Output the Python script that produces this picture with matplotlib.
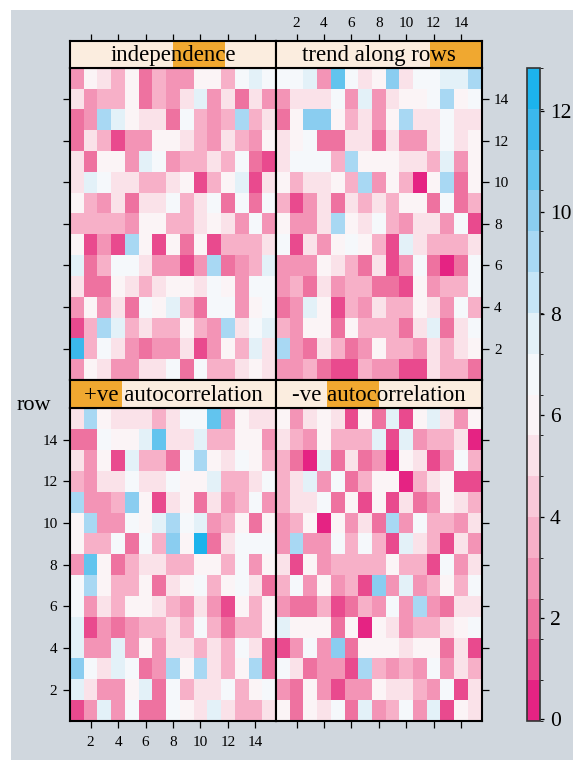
import numpy as np
import matplotlib.pyplot as plt
from matplotlib.colors import ListedColormap, BoundaryNorm
from matplotlib.patches import Rectangle
from matplotlib.cm import ScalarMappable

plt.rcParams['font.family'] = ['Liberation Serif', 'DejaVu Serif']

# cell values, rows listed from top (row 15) down to row 1
independence = [
    [2.8, 6.0, 5.2, 3.6, 6.0, 2.0, 3.6, 2.8, 2.8, 6.0, 6.0, 3.6, 6.8, 7.6, 6.8],
    [5.2, 2.8, 3.6, 3.6, 6.0, 2.0, 3.6, 2.8, 5.2, 7.6, 2.8, 5.2, 2.0, 5.2, 2.8],
    [2.0, 2.8, 9.2, 7.6, 6.0, 5.2, 5.2, 2.0, 6.8, 3.6, 2.8, 3.6, 9.2, 3.6, 5.2],
    [2.0, 5.2, 3.6, 1.2, 2.8, 2.8, 6.0, 6.0, 5.2, 3.6, 2.8, 5.2, 3.6, 2.8, 6.0],
    [5.2, 2.0, 6.0, 6.0, 2.8, 7.6, 6.8, 2.8, 3.6, 3.6, 5.2, 3.6, 6.8, 2.0, 1.2],
    [5.2, 7.6, 6.8, 5.2, 5.2, 3.6, 3.6, 5.2, 6.0, 1.2, 3.6, 6.0, 7.6, 1.2, 5.2],
    [6.0, 3.6, 2.8, 5.2, 2.0, 5.2, 5.2, 6.8, 3.6, 5.2, 6.8, 2.0, 6.8, 2.0, 6.8],
    [3.6, 3.6, 3.6, 3.6, 2.8, 6.0, 6.0, 3.6, 3.6, 5.2, 6.0, 5.2, 2.8, 6.8, 2.8],
    [6.0, 1.2, 2.8, 1.2, 9.2, 6.0, 1.2, 6.0, 2.0, 6.0, 1.2, 3.6, 3.6, 3.6, 5.2],
    [7.6, 2.0, 3.6, 6.8, 6.8, 5.2, 2.8, 2.8, 1.2, 2.8, 9.2, 2.0, 2.8, 3.6, 7.6],
    [5.2, 2.0, 2.0, 6.0, 5.2, 3.6, 5.2, 6.0, 6.0, 5.2, 6.8, 6.0, 2.8, 6.8, 6.8],
    [2.8, 6.0, 2.8, 5.2, 2.0, 6.8, 6.0, 7.6, 3.6, 2.0, 6.8, 6.8, 2.8, 6.0, 6.8],
    [1.2, 3.6, 9.2, 7.6, 3.6, 5.2, 3.6, 3.6, 6.0, 3.6, 2.8, 9.2, 5.2, 6.8, 7.6],
    [11.7, 3.6, 6.8, 5.2, 2.8, 2.0, 2.8, 2.8, 5.2, 1.2, 2.8, 6.0, 3.6, 7.6, 5.2],
    [2.8, 6.0, 5.2, 2.8, 2.8, 5.2, 5.2, 6.8, 2.0, 6.8, 3.6, 3.6, 5.2, 6.0, 5.2],
]

trend = [
    [6.8, 6.8, 7.6, 2.8, 10.9, 6.8, 5.2, 6.0, 10.0, 5.2, 6.8, 6.8, 7.6, 7.6, 9.2],
    [2.8, 5.2, 5.2, 5.2, 6.8, 2.8, 7.6, 2.8, 5.2, 6.0, 6.0, 6.8, 9.2, 6.0, 6.8],
    [2.0, 6.0, 10.0, 10.0, 6.0, 3.6, 5.2, 2.8, 6.0, 9.2, 5.2, 5.2, 6.8, 5.2, 5.2],
    [5.2, 6.0, 6.8, 2.0, 2.0, 5.2, 5.2, 2.0, 5.2, 2.8, 2.8, 5.2, 6.8, 5.2, 6.0],
    [5.2, 6.8, 6.8, 6.8, 3.6, 9.2, 6.0, 6.0, 6.0, 5.2, 5.2, 3.6, 7.6, 2.8, 6.0],
    [6.0, 3.6, 5.2, 5.2, 6.0, 3.6, 9.2, 2.8, 6.0, 3.6, 0.4, 6.0, 9.2, 2.0, 6.0],
    [3.6, 1.2, 2.8, 5.2, 2.0, 5.2, 3.6, 5.2, 3.6, 6.0, 6.0, 2.0, 6.8, 2.0, 3.6],
    [6.0, 2.8, 2.8, 5.2, 9.2, 6.0, 5.2, 6.8, 3.6, 2.8, 5.2, 5.2, 2.8, 6.8, 1.2],
    [6.8, 1.2, 5.2, 2.8, 6.0, 6.8, 6.0, 3.6, 1.2, 7.6, 5.2, 3.6, 3.6, 3.6, 5.2],
    [2.8, 2.8, 2.8, 6.0, 5.2, 3.6, 2.0, 5.2, 1.2, 2.8, 6.8, 2.0, 0.4, 2.0, 6.8],
    [2.8, 3.6, 2.0, 5.2, 2.8, 3.6, 3.6, 2.0, 2.0, 1.2, 6.0, 2.8, 3.6, 3.6, 6.8],
    [2.0, 2.8, 7.6, 6.0, 1.2, 3.6, 2.8, 5.2, 3.6, 3.6, 6.0, 5.2, 2.8, 6.8, 3.6],
    [3.6, 2.8, 6.0, 6.0, 2.0, 6.0, 3.6, 3.6, 3.6, 2.0, 5.2, 7.6, 2.0, 5.2, 6.8],
    [9.2, 2.8, 2.0, 5.2, 3.6, 2.0, 2.8, 6.0, 3.6, 3.6, 2.8, 5.2, 3.6, 5.2, 6.0],
    [2.8, 2.8, 3.6, 2.0, 1.2, 1.2, 3.6, 2.8, 2.8, 1.2, 1.2, 5.2, 3.6, 3.6, 2.0],
]

pos_auto = [
    [5.2, 9.2, 6.0, 5.2, 5.2, 5.2, 3.6, 5.2, 6.8, 6.8, 10.9, 2.8, 6.0, 5.2, 5.2],
    [2.0, 2.0, 6.8, 6.0, 6.0, 7.6, 10.9, 5.2, 5.2, 7.6, 3.6, 3.6, 6.0, 6.0, 2.8],
    [5.2, 2.8, 6.0, 1.2, 7.6, 3.6, 3.6, 2.0, 6.8, 9.2, 6.0, 5.2, 6.8, 6.0, 3.6],
    [3.6, 2.8, 5.2, 5.2, 6.8, 5.2, 5.2, 6.8, 6.0, 6.0, 7.6, 3.6, 3.6, 5.2, 6.8],
    [9.2, 2.8, 2.8, 3.6, 10.0, 6.0, 1.2, 5.2, 6.0, 2.0, 5.2, 2.8, 3.6, 6.8, 2.8],
    [6.0, 9.2, 2.8, 2.8, 6.8, 6.0, 7.6, 9.2, 6.8, 7.6, 2.8, 3.6, 6.0, 2.0, 6.0],
    [6.0, 3.6, 3.6, 6.8, 2.0, 6.8, 3.6, 10.0, 6.0, 12.5, 2.0, 5.2, 6.8, 6.8, 6.8],
    [2.8, 10.9, 6.0, 2.0, 3.6, 5.2, 5.2, 3.6, 3.6, 6.0, 6.0, 3.6, 6.8, 2.8, 6.0],
    [6.8, 9.2, 6.0, 3.6, 3.6, 6.0, 2.0, 5.2, 6.0, 6.8, 3.6, 6.0, 6.8, 5.2, 2.0],
    [6.8, 2.8, 5.2, 3.6, 6.0, 6.0, 5.2, 3.6, 2.8, 5.2, 2.8, 1.2, 6.0, 3.6, 6.0],
    [7.6, 1.2, 2.8, 2.0, 2.8, 3.6, 3.6, 5.2, 3.6, 6.8, 3.6, 2.0, 3.6, 3.6, 6.0],
    [7.6, 2.8, 2.8, 7.6, 2.8, 6.0, 2.8, 5.2, 5.2, 3.6, 5.2, 3.6, 6.8, 5.2, 2.0],
    [10.0, 6.8, 5.2, 7.6, 6.8, 2.0, 2.8, 9.2, 6.0, 9.2, 5.2, 3.6, 6.0, 9.2, 2.0],
    [7.6, 5.2, 2.8, 2.8, 6.0, 7.6, 2.0, 6.8, 3.6, 5.2, 5.2, 6.8, 3.6, 6.0, 6.8],
    [1.2, 2.8, 7.6, 2.8, 6.8, 2.0, 2.0, 6.8, 6.0, 5.2, 7.6, 5.2, 3.6, 3.6, 5.2],
]

neg_auto = [
    [6.0, 2.8, 5.2, 6.0, 5.2, 1.2, 6.0, 2.0, 7.6, 1.2, 6.0, 7.6, 5.2, 2.8, 6.0],
    [5.2, 3.6, 2.8, 6.0, 3.6, 3.6, 3.6, 7.6, 1.2, 7.6, 2.8, 3.6, 3.6, 5.2, 0.4],
    [3.6, 2.0, 0.4, 7.6, 2.0, 5.2, 2.0, 2.8, 0.4, 6.0, 5.2, 1.2, 2.8, 6.8, 3.6],
    [3.6, 5.2, 7.6, 2.8, 6.8, 2.0, 3.6, 6.0, 6.0, 0.4, 3.6, 5.2, 6.0, 1.2, 1.2],
    [3.6, 5.2, 5.2, 6.8, 2.0, 6.0, 1.2, 6.0, 1.2, 5.2, 2.0, 2.8, 6.0, 5.2, 3.6],
    [2.8, 3.6, 6.0, 0.4, 6.0, 2.8, 5.2, 2.0, 9.2, 2.8, 6.8, 3.6, 3.6, 2.8, 5.2],
    [2.8, 9.2, 2.8, 2.8, 6.8, 3.6, 6.8, 3.6, 1.2, 7.6, 5.2, 3.6, 1.2, 5.2, 2.8],
    [5.2, 1.2, 6.0, 2.8, 3.6, 3.6, 3.6, 3.6, 6.0, 3.6, 3.6, 1.2, 6.8, 2.8, 5.2],
    [3.6, 6.8, 2.8, 6.0, 2.8, 3.6, 1.2, 10.0, 2.8, 7.6, 2.8, 3.6, 6.0, 3.6, 6.8],
    [2.8, 2.0, 2.0, 3.6, 1.2, 2.0, 3.6, 2.8, 6.8, 2.8, 9.2, 2.8, 2.0, 5.2, 5.2],
    [7.6, 6.0, 6.0, 6.0, 2.0, 6.0, 0.4, 6.0, 5.2, 2.8, 3.6, 3.6, 5.2, 6.0, 6.8],
    [1.2, 2.8, 6.8, 2.8, 10.0, 2.0, 6.0, 6.0, 6.0, 5.2, 6.0, 6.0, 2.0, 5.2, 1.2],
    [6.8, 5.2, 2.0, 2.8, 2.8, 1.2, 9.2, 3.6, 2.8, 3.6, 2.8, 6.8, 2.8, 5.2, 3.6],
    [2.8, 2.0, 6.0, 2.8, 1.2, 2.8, 2.8, 6.0, 5.2, 5.2, 3.6, 2.8, 6.8, 1.2, 5.2],
    [6.0, 2.0, 6.0, 5.2, 6.8, 2.0, 7.6, 2.8, 3.6, 6.8, 2.8, 7.6, 1.2, 6.0, 5.2],
]

level_names = ['+ve autocorrelation', '-ve autocorrelation', 'independence', 'trend along rows']
ticks = [2, 4, 6, 8, 10, 12, 14]
cbar_ticks = [0, 2, 4, 6, 8, 10, 12]

band_colors = ['#E52383', '#E94A8E', '#EE72A0', '#F394B6', '#F7B0C8', '#F9C9D9',
               '#FAE2E9', '#FBF4F6', '#F5F8FB', '#E3F1F8', '#C6E5F6', '#A8D8F3',
               '#8ACDF0', '#62C4EE', '#3BB8EC', '#1CB3EC']
cmap = ListedColormap(band_colors)
norm = BoundaryNorm(np.linspace(-0.03, 12.85, 17), cmap.N)

BG = '#D0D7DE'
STRIP_BG = '#FBEDDF'
STRIP_HI = '#F0A830'

W, H = 573, 760
fig = plt.figure(figsize=(W / 100, H / 100), dpi=100)
fig.patches.append(Rectangle((11 / W, 0), 1, 1 - 10 / H, transform=fig.transFigure,
                             facecolor=BG, edgecolor='none', zorder=-10))


def box(x0, y0, x1, y1):
    return [x0 / W, 1 - y1 / H, (x1 - x0) / W, (y1 - y0) / H]


col_x = [(70, 276), (276, 481.5)]
row_y = [((41, 67.7), (67.7, 380)), ((380, 408.3), (408.3, 721))]

# (data, level index, column, row, sides with ticks, sides with labels)
panels = [
    (independence, 2, 0, 0, 'lt', ''),
    (trend, 3, 1, 0, 'rt', 'rt'),
    (pos_auto, 0, 0, 1, 'lb', 'lb'),
    (neg_auto, 1, 1, 1, 'rb', ''),
]

edges = np.arange(0.5, 16, 1.0)
for data, lev, c, r, tk, lb in panels:
    grid = np.array(data)[::-1]
    (sy0, sy1), (dy0, dy1) = row_y[r]
    x0, x1 = col_x[c]

    ax = fig.add_axes(box(x0, dy0, x1, dy1))
    ax.pcolormesh(edges, edges, grid, cmap=cmap, norm=norm, antialiased=False)
    ax.set_xlim(0.5, 15.5)
    ax.set_ylim(0.5, 15.5)
    ax.set_xticks(ticks)
    ax.set_yticks(ticks)
    for s in ax.spines.values():
        s.set_linewidth(1.5)
    ax.tick_params(direction='out', length=5, width=0.9, labelsize=11,
                   left='l' in tk, right='r' in tk, bottom='b' in tk, top=False,
                   labelleft='l' in lb, labelright='r' in lb,
                   labelbottom='b' in lb, labeltop=False)
    ax.tick_params(axis='x', pad=6)
    ax.tick_params(axis='y', pad=4)

    sax = fig.add_axes(box(x0, sy0, x1, sy1))
    sax.set_facecolor(STRIP_BG)
    sax.add_patch(Rectangle((lev / 4, 0), 0.25, 1, transform=sax.transAxes,
                            facecolor=STRIP_HI, edgecolor='none'))
    sax.text(0.5, 0.45, level_names[lev], transform=sax.transAxes,
             ha='center', va='center', fontsize=16.5)
    sax.set_xlim(0.5, 15.5)
    sax.set_yticks([])
    sax.set_xticks(ticks)
    for s in sax.spines.values():
        s.set_linewidth(1.5)
    sax.tick_params(direction='out', length=5, width=0.9, labelsize=11, pad=3,
                    bottom=False, labelbottom=False, top='t' in tk,
                    labeltop='t' in lb)

fig.text(17 / W, 1 - 405 / H, 'row', fontsize=16, va='center', ha='left')

cax = fig.add_axes(box(527, 68, 540, 721))
sm = ScalarMappable(norm=norm, cmap=cmap)
cb = fig.colorbar(sm, cax=cax, ticks=cbar_ticks)
cb.outline.set_linewidth(1.2)
cb.outline.set_edgecolor('#333333')
cax.tick_params(length=3, width=0.9, labelsize=15.5, pad=4)

fig.savefig('out.png', dpi=100, facecolor='white')
